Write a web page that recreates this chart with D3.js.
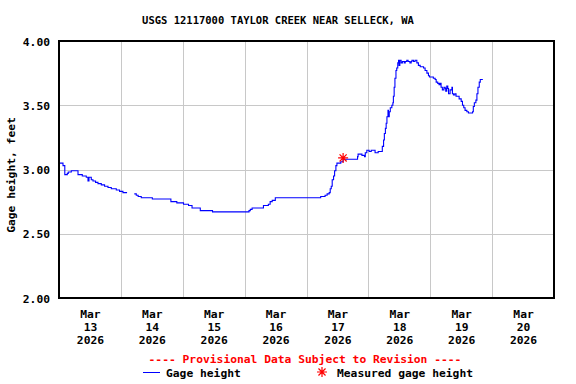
<!DOCTYPE html>
<html>
<head>
<meta charset="utf-8">
<script src="https://cdn.jsdelivr.net/npm/d3@7"></script>
<style>
  body { margin: 0; background: #fff; }
  text { font-family: "DejaVu Sans Mono", monospace; font-weight: bold; font-size: 11.3px; }
</style>
</head>
<body>
<svg id="chart" width="576" height="384"></svg>
<script>
// hours after 2026-03-13 00:00, gage height in feet (null = gap in record)
var hours = [0, 1.55, 2.25, 3.22, 3.6, 4.77, 7.37, 9.03, 10.58, 11.24, 11.63, 12.52, 13.18, 14.19, 15.12, 16.4, 17.68, 19.0, 20.28, 22.22,
  23.5, 24.8, 26.4, 26.6, 29.2, 29.97, 30.7, 31.9, 36.2, 43.4, 45.7, 48.3, 50.25, 51.6, 54.8, 59.55, 73.7, 74.2, 74.9, 79.3,
  81.2, 81.9, 82.7, 83.9, 101.5, 103.2, 104.0, 104.8, 105.2, 105.6, 105.97, 106.5, 106.9, 107.4, 107.8, 109.3, 110.2, 115.8, 116.0, 117.5,
  118.5, 118.8, 119.4, 120.3, 121.1, 122.6, 123.8, 125.4, 125.9, 126.2, 126.6, 126.9, 127.2, 127.6, 127.8, 128.1, 128.5, 129.1, 129.5, 129.7,
  130.0, 130.3, 130.7, 131.0, 131.4, 131.7, 131.9, 132.2, 132.7, 133.2, 133.9, 134.3, 134.9, 135.4, 136.1, 136.6, 136.9, 137.5, 138.1, 138.8,
  139.4, 140.1, 141.4, 142.0, 142.7, 143.3, 143.7, 145.2, 145.9, 146.3, 146.9, 147.4, 147.8, 148.2, 148.7, 149.3, 149.8, 150.0, 150.4, 150.8,
  151.1, 151.7, 152.4, 152.6, 153.0, 153.5, 154.0, 155.2, 156.0, 156.5, 157.0, 157.5, 158.2, 158.8, 160.4, 160.7, 161.1, 161.7, 162.1, 162.5,
  163.0, 163.4, 164.4]
var gage = [3.05, 3.03, 2.96, 2.97, 2.98, 2.99, 2.96, 2.95, 2.94, 2.91, 2.94, 2.92, 2.91, 2.90, 2.89, 2.88, 2.87, 2.86, 2.85, 2.84,
  2.83, 2.82, 2.82, null, 2.81, 2.80, 2.79, 2.78, 2.77, 2.75, 2.74, 2.73, 2.72, 2.70, 2.68, 2.67, 2.68, 2.69, 2.70, 2.72,
  2.73, 2.75, 2.76, 2.78, 2.79, 2.80, 2.81, 2.82, 2.85, 2.87, 2.92, 2.95, 2.99, 3.03, 3.05, 3.06, 3.08, 3.10, 3.12, 3.11,
  3.10, 3.13, 3.15, 3.14, 3.15, 3.13, 3.14, 3.18, 3.23, 3.28, 3.32, 3.36, 3.41, 3.46, 3.41, 3.45, 3.48, 3.50, 3.52, 3.57,
  3.64, 3.71, 3.77, 3.79, 3.83, 3.85, 3.81, 3.85, 3.83, 3.84, 3.83, 3.84, 3.85, 3.84, 3.83, 3.84, 3.85, 3.84, 3.85, 3.83,
  3.81, 3.80, 3.79, 3.77, 3.75, 3.73, 3.72, 3.71, 3.70, 3.68, 3.67, 3.66, 3.67, 3.64, 3.62, 3.64, 3.63, 3.61, 3.65, 3.63,
  3.59, 3.62, 3.64, 3.59, 3.58, 3.59, 3.57, 3.55, 3.53, 3.50, 3.48, 3.46, 3.45, 3.44, 3.45, 3.49, 3.52, 3.54, 3.59, 3.64,
  3.68, 3.70, 3.70]

// field measurement
var measuredHour = [110.2]
var measuredGage = [3.09]

var days = ['13', '14', '15', '16', '17', '18', '19', '20']
var yTicks = [2.0, 2.5, 3.0, 3.5, 4.0]

var start = new Date(2026, 2, 13)
var svg = d3.select('#chart')
var pLeft = 59, pRight = 554, pTop = 41, pBottom = 298

var x = d3.scaleTime()
  .domain([start, d3.timeDay.offset(start, days.length)])
  .range([pLeft, pRight])
var y = d3.scaleLinear().domain([2, 4]).range([pBottom, pTop])

var data = hours.map(function(h, i) {
  return { t: new Date(start.getTime() + h * 3600000), v: gage[i] }
})

// title
svg.append('text')
  .attr('x', 278).attr('y', 24)
  .attr('text-anchor', 'middle')
  .style('font-size', '10.5px')
  .text('USGS 12117000 TAYLOR CREEK NEAR SELLECK, WA')

// horizontal grid + y labels
var yAxis = svg.append('g')
  .attr('transform', 'translate(' + pLeft + ',0)')
  .call(d3.axisLeft(y).tickValues(yTicks).tickFormat(d3.format('.2f'))
    .tickSize(-(pRight - pLeft)).tickPadding(9))
yAxis.select('.domain').remove()
yAxis.selectAll('line').attr('stroke', '#c8c8c8').attr('shape-rendering', 'crispEdges')
yAxis.selectAll('text').attr('fill', '#000').style('font-size', '11.3px')
  .style('font-family', '"DejaVu Sans Mono", monospace').attr('dy', '0.36em')

// vertical grid at day boundaries
var dayEdges = days.slice(1).map(function(d, i) { return d3.timeDay.offset(start, i + 1) })
var xGrid = svg.append('g')
  .attr('transform', 'translate(0,' + pBottom + ')')
  .call(d3.axisBottom(x).tickValues(dayEdges).tickSize(-(pBottom - pTop)).tickFormat(''))
xGrid.select('.domain').remove()
xGrid.selectAll('line').attr('stroke', '#c8c8c8').attr('shape-rendering', 'crispEdges')

// day labels, centred on noon
var noons = days.map(function(d, i) { return d3.timeHour.offset(start, 24 * i + 12) })
var xLab = svg.append('g')
  .attr('transform', 'translate(0,' + pBottom + ')')
  .call(d3.axisBottom(x).tickValues(noons).tickSize(0).tickFormat(''))
xLab.select('.domain').remove()
xLab.selectAll('.tick').each(function(d, i) {
  var t = d3.select(this).append('text')
    .attr('fill', '#000').attr('text-anchor', 'middle').attr('y', 20)
    .style('font-size', '11.3px').style('font-family', '"DejaVu Sans Mono", monospace')
  t.append('tspan').attr('x', 0).text('Mar')
  t.append('tspan').attr('x', 0).attr('dy', 13).text(days[i])
  t.append('tspan').attr('x', 0).attr('dy', 13).text('2026')
})

// gage line
var line = d3.line()
  .defined(function(d) { return d.v != null })
  .x(function(d) { return x(d.t) })
  .y(function(d) { return y(d.v) })
  .curve(d3.curveStepAfter)

svg.append('path')
  .datum(data)
  .attr('d', line)
  .attr('fill', 'none')
  .attr('stroke', '#0000ff')
  .attr('stroke-width', 1.1)

function asterisk(cx, cy, r) {
  var p = ''
  for (var k = 0; k < 4; k++) {
    var a = k * Math.PI / 4
    p += 'M' + (cx - r * Math.cos(a)) + ',' + (cy - r * Math.sin(a)) +
      'L' + (cx + r * Math.cos(a)) + ',' + (cy + r * Math.sin(a))
  }
  return p
}

svg.selectAll('.meas')
  .data(measuredHour)
  .enter().append('path')
  .attr('class', 'meas')
  .attr('d', function(h, i) {
    return asterisk(x(new Date(start.getTime() + h * 3600000)), y(measuredGage[i]), 5)
  })
  .attr('stroke', '#ff0000')
  .attr('stroke-width', 1.2)

// frame
svg.append('rect')
  .attr('x', pLeft).attr('y', pTop)
  .attr('width', pRight - pLeft).attr('height', pBottom - pTop)
  .attr('fill', 'none').attr('stroke', '#000').attr('stroke-width', 1.3)
  .attr('shape-rendering', 'crispEdges')

// y axis title
svg.append('text')
  .attr('transform', 'translate(15,175) rotate(-90)')
  .attr('text-anchor', 'middle')
  .text('Gage height, feet')

// legend
svg.append('text')
  .attr('x', 305).attr('y', 363)
  .attr('text-anchor', 'middle')
  .attr('fill', '#ff0000')
  .text('---- Provisional Data Subject to Revision ----')

svg.append('line')
  .attr('x1', 143).attr('x2', 160).attr('y1', 372.5).attr('y2', 372.5)
  .attr('stroke', '#0000ff')
svg.append('text').attr('x', 166).attr('y', 377).text('Gage height')

svg.append('path')
  .attr('d', asterisk(322, 372, 5))
  .attr('stroke', '#ff0000').attr('stroke-width', 1.2)
svg.append('text').attr('x', 337).attr('y', 377).text('Measured gage height')
</script>
</body>
</html>
